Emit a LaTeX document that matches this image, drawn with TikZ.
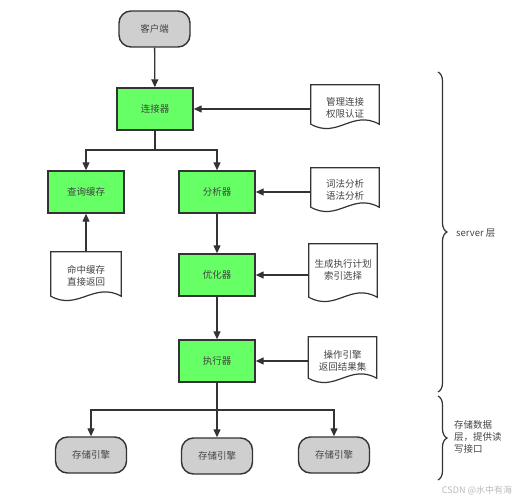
\documentclass[tikz,border=0pt]{standalone}
\usepackage{fontspec}
\setmainfont{Noto Sans CJK SC}
\usetikzlibrary{arrows.meta,decorations.pathreplacing}
\definecolor{boxgreen}{HTML}{66FF66}
\definecolor{termgrey}{HTML}{CFCFCF}
\definecolor{linegrey}{HTML}{333333}
\definecolor{textgrey}{HTML}{444444}
\newcommand{\docoutline}[1]{%
  \draw[docline] (#1.north west) -- (#1.north east) -- (#1.south east)
    .. controls ([xshift=-27pt,yshift=15pt]#1.south east) and ([xshift=27pt,yshift=-15pt]#1.south west) .. (#1.south west) -- cycle;}
\begin{document}
\begin{tikzpicture}[x=1pt,y=-1pt,
  font=\fontsize{9.5}{12}\selectfont, text=textgrey,
  greenbox/.style={draw=linegrey, line width=1.4pt, fill=boxgreen, minimum width=76pt, minimum height=42pt, inner sep=0pt},
  term/.style={draw=linegrey, line width=1.4pt, fill=termgrey, rounded corners=12pt, minimum width=71pt, minimum height=36pt, inner sep=0pt},
  docbox/.style={minimum width=68pt, inner sep=0pt, align=center},
  docline/.style={draw=linegrey, line width=1.2pt, fill=white},
  conn/.style={draw=linegrey, line width=1.3pt},
  arr/.style={conn, -{Triangle[length=8pt,width=7pt]}},
  bracestyle/.style={draw=linegrey, line width=1.2pt, decorate, decoration={brace, amplitude=9pt}},
  label/.style={inner sep=0pt, align=left}
]
\useasboundingbox (0,0) rectangle (519,500);

% terminals
\node[term] (client) at (154.5,29) {客户端};
\node[term] (s1) at (91,455) {存储引擎};
\node[term] (s2) at (217,456) {存储引擎};
\node[term] (s3) at (334,455) {存储引擎};

% green boxes
\node[greenbox] (conn1) at (155,109) {连接器};
\node[greenbox] (cache) at (86,192) {查询缓存};
\node[greenbox] (ana) at (217,192) {分析器};
\node[greenbox] (opt) at (217,275) {优化器};
\node[greenbox] (exe) at (217,361) {执行器};

% documents
\node[docbox, minimum height=39pt] (d1) at (345,104.5) {};
\node[docbox, minimum height=39pt] (d2) at (345,187.5) {};
\node[docbox, minimum height=53pt] (d3) at (343,270.5) {};
\node[docbox, minimum height=41pt] (d4) at (342.5,357.5) {};
\node[docbox, minimum height=44pt, minimum width=70pt] (d5) at (86,274) {};
\docoutline{d1}
\docoutline{d2}
\docoutline{d3}
\docoutline{d4}
\docoutline{d5}
\node[docbox] at (345,107.5) {管理连接\\权限认证};
\node[docbox] at (345,189.5) {词法分析\\语法分析};
\node[docbox] at (343,270) {生成执行计划\\索引选择};
\node[docbox] at (342.5,361) {操作引擎\\返回结果集};
\node[docbox] at (86,276) {命中缓存\\直接返回};

% connectors
\coordinate (j1) at (155,150);
\coordinate (j2) at (217,410);
\draw[arr] (client) -- (conn1);
\draw[conn] (conn1.south) -- (j1);
\draw[arr] (j1) -| (cache.north);
\draw[arr] (j1) -| (ana.north);
\draw[arr] (d1.west |- conn1) -- (conn1.east);
\draw[arr] (d2.west |- ana) -- (ana.east);
\draw[arr] (d3.west |- opt) -- (opt.east);
\draw[arr] (d4.west |- exe) -- (exe.east);
\draw[arr] (d5.north) -- (cache.south);
\draw[arr] (ana) -- (opt);
\draw[arr] (opt) -- (exe);
\draw[conn] (exe.south) -- (j2);
\draw[arr] (j2) -| (s1.north);
\draw[arr] (j2) -- (s2.north);
\draw[arr] (j2) -| (s3.north);

% braces
\coordinate (b1a) at (438,72);
\coordinate (b1b) at (438,392);
\coordinate (b2a) at (438,396);
\coordinate (b2b) at (438,480);
\draw[bracestyle] (b1a) -- (b1b);
\draw[bracestyle] (b2a) -- (b2b);
\node[label, anchor=west] (srv) at (456,233) {server 层};
\node[label, anchor=west] (stor) at (454,437) {存储数据\\层，提供读\\写接口};

% watermark
\node[inner sep=0pt, text=gray!55, font=\fontsize{9}{11}\selectfont] (wm) at (477,490) {CSDN @水中有海};
\end{tikzpicture}
\end{document}
